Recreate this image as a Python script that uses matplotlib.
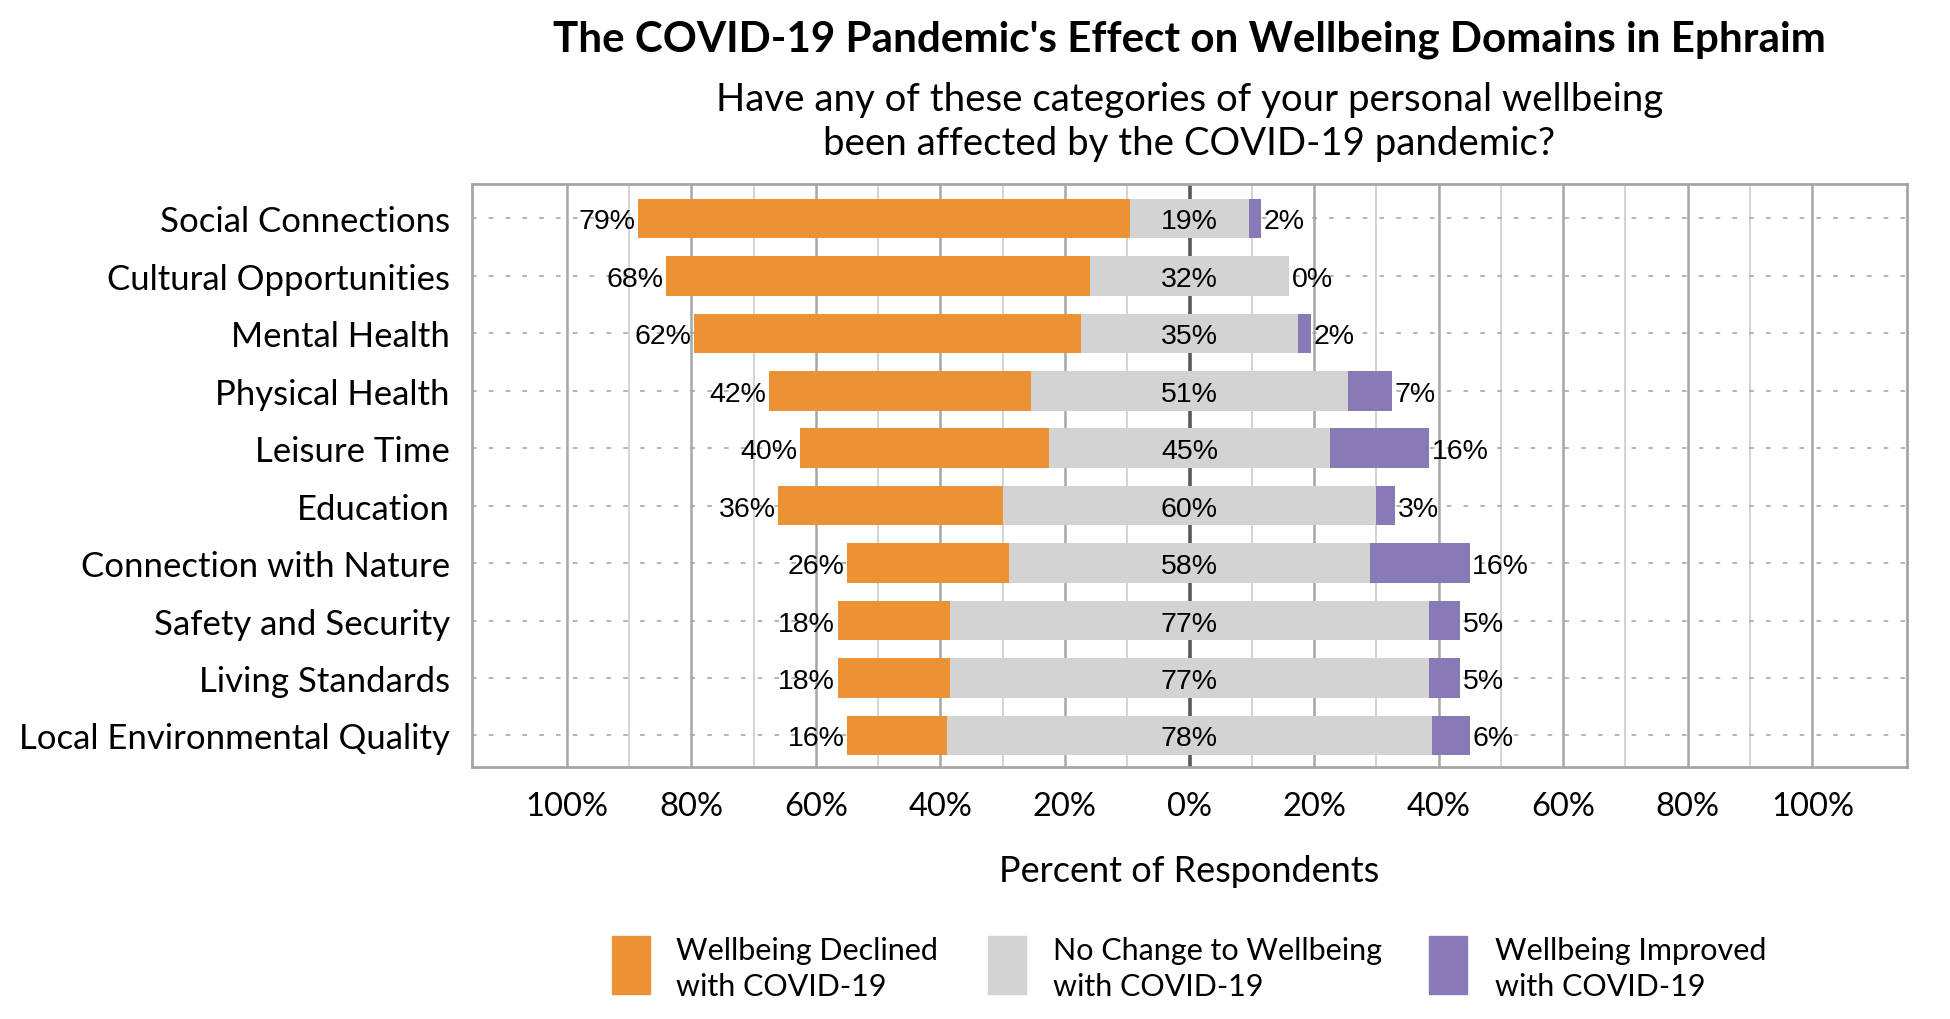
import matplotlib
matplotlib.use("Agg")
import matplotlib.pyplot as plt
from matplotlib.patches import Rectangle
from matplotlib.ticker import FuncFormatter, MultipleLocator

categories = ["Social Connections", "Cultural Opportunities", "Mental Health",
              "Physical Health", "Leisure Time", "Education",
              "Connection with Nature", "Safety and Security",
              "Living Standards", "Local Environmental Quality"]
declined = [79, 68, 62, 42, 40, 36, 26, 18, 18, 16]
no_change = [19, 32, 35, 51, 45, 60, 58, 77, 77, 78]
improved = [2, 0, 2, 7, 16, 3, 16, 5, 5, 6]
series_names = ["Wellbeing Declined\nwith COVID-19",
                "No Change to Wellbeing\nwith COVID-19",
                "Wellbeing Improved\nwith COVID-19"]
title = "The COVID-19 Pandemic's Effect on Wellbeing Domains in Ephraim"
subtitle = "Have any of these categories of your personal wellbeing\nbeen affected by the COVID-19 pandemic?"
xlabel = "Percent of Respondents"

C_DEC = "#EB9234"
C_NEU = "#D3D3D3"
C_IMP = "#887AB6"
FONT = "Lato"
LFONT = "Liberation Sans"

fig = plt.figure(figsize=(19.5, 10.2), dpi=100)
ax = fig.add_axes([472/1950, 1-768/1020, (1907-472)/1950, (768-185)/1020])

y = list(range(len(categories)))
h = 0.69
neu_left = [-n/2 for n in no_change]
dec_left = [nl - d for nl, d in zip(neu_left, declined)]
imp_left = [n/2 for n in no_change]

# gridlines
for v in range(-90, 100, 20):
    ax.axvline(v, color="#D0D0D0", lw=1.3, zorder=0)
for v in range(-100, 101, 20):
    if v == 0:
        continue
    ax.axvline(v, color="#A6A6A6", lw=1.8, zorder=0)
ax.axvline(0, color="#595959", lw=2.6, zorder=0.5)
for yy in y:
    ax.axhline(yy, color="#A0A0A0", lw=1.1, ls=(0, (3, 8)), zorder=0.6)

ax.barh(y, declined, left=dec_left, height=h, color=C_DEC, zorder=2)
ax.barh(y, no_change, left=neu_left, height=h, color=C_NEU, zorder=2)
ax.barh(y, improved, left=imp_left, height=h, color=C_IMP, zorder=2)

for i in y:
    ax.text(dec_left[i] - 0.4, i, f"{declined[i]}%", ha="right", va="center_baseline",
            fontsize=20.5, family=LFONT, zorder=3)
    ax.text(0, i, f"{no_change[i]}%", ha="center", va="center_baseline",
            fontsize=20.5, family=LFONT, zorder=3)
    ax.text(imp_left[i] + improved[i] + 0.4, i, f"{improved[i]}%", ha="left",
            va="center_baseline", fontsize=20.5, family=LFONT, zorder=3)

ax.set_xlim(-115.2, 115.2)
ax.set_ylim(len(categories) - 0.45, -0.6)
ax.xaxis.set_major_locator(MultipleLocator(20))
ax.xaxis.set_major_formatter(FuncFormatter(lambda v, p: f"{abs(int(round(v)))}%"))
ax.set_yticks(y)
ax.set_yticklabels(categories, family=FONT, fontsize=25)
ax.tick_params(axis="both", length=0)
ax.tick_params(axis="y", pad=16)
ax.tick_params(axis="x", pad=17, labelsize=23.5)
for lab in ax.get_xticklabels():
    lab.set_family(FONT)
for s in ax.spines.values():
    s.set_color("#A6A6A6")
    s.set_linewidth(2)
ax.set_xlabel(xlabel, family=FONT, fontsize=26, labelpad=24)

cx = (472 + 1907) / 2 / 1950
fig.text(cx, 1-40/1020, title, ha="center", va="center",
         family=FONT, fontsize=30.3, fontweight="bold")
fig.text(cx, 1-122/1020, subtitle, ha="center", va="center",
         family=FONT, fontsize=27.6, linespacing=1.3)

# legend
cols = [C_DEC, C_NEU, C_IMP]
px = [612, 988, 1429]
tx = [676, 1053, 1495]
for c, p, t, name in zip(cols, px, tx, series_names):
    fig.patches.append(Rectangle((p/1950, 1-995/1020), 38/1950, 58/1020,
                                 transform=fig.transFigure, color=c))
    fig.text(t/1950, 1-969/1020, name, ha="left", va="center",
             family=FONT, fontsize=22, linespacing=1.32)

fig.savefig("out.png", dpi=100)
